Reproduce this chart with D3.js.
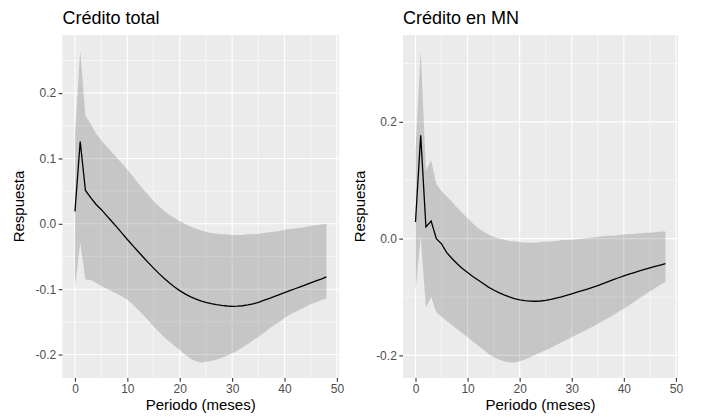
<!DOCTYPE html>
<html>
<head>
<meta charset="utf-8">
<script src="https://cdn.jsdelivr.net/npm/d3@7"></script>
<style>
  body { margin: 0; background: #fff; }
  text { font-family: "Liberation Sans", Arial, Helvetica, sans-serif; }
</style>
</head>
<body>
<script>
// periods (months)
const periods = [0,1,2,3,4,5,6,7,8,9,10,11,12,13,14,15,16,17,18,19,20,21,22,23,24,
  25,26,27,28,29,30,31,32,33,34,35,36,37,38,39,40,41,42,43,44,45,46,47,48];

// Crédito total
const totalEst = [0.019,0.126,0.051,0.040,0.030,0.022,0.013,0.004,-0.005,-0.0145,-0.024,
  -0.033,-0.0419,-0.0507,-0.0594,-0.0678,-0.0758,-0.0833,-0.0903,-0.0966,-0.1022,-0.1071,
  -0.1113,-0.1148,-0.1177,-0.1201,-0.1221,-0.1237,-0.1249,-0.1257,-0.1262,-0.1260,-0.1253,
  -0.1240,-0.1224,-0.1200,-0.1172,-0.1143,-0.1113,-0.1083,-0.1053,-0.1023,-0.0993,-0.0963,
  -0.0933,-0.0903,-0.0874,-0.0845,-0.0812];
const totalUp = [0.136,0.265,0.165,0.153,0.138,0.128,0.119,0.110,0.101,0.092,0.083,
  0.073,0.063,0.053,0.044,0.035,0.027,0.020,0.014,0.009,0.004,0.000,-0.004,-0.007,
  -0.010,-0.012,-0.014,-0.015,-0.016,-0.0165,-0.017,-0.017,-0.017,-0.016,-0.016,-0.015,
  -0.014,-0.013,-0.012,-0.011,-0.009,-0.008,-0.007,-0.006,-0.005,-0.003,-0.002,-0.001,0.000];
const totalLow = [-0.098,-0.029,-0.085,-0.086,-0.090,-0.095,-0.099,-0.103,-0.107,-0.111,
  -0.116,-0.123,-0.131,-0.139,-0.148,-0.157,-0.165,-0.173,-0.180,-0.187,-0.193,-0.200,
  -0.206,-0.210,-0.212,-0.211,-0.210,-0.208,-0.205,-0.202,-0.198,-0.194,-0.189,-0.184,
  -0.178,-0.173,-0.167,-0.161,-0.155,-0.150,-0.144,-0.139,-0.135,-0.131,-0.127,-0.123,
  -0.120,-0.117,-0.114];

// Crédito en MN
const mnEst = [0.0285,0.177,0.020,0.030,0.000,-0.009,-0.024,-0.034,-0.043,-0.051,-0.058,
  -0.065,-0.071,-0.077,-0.083,-0.088,-0.0925,-0.0965,-0.0998,-0.1027,-0.1050,-0.1063,
  -0.1071,-0.1073,-0.1068,-0.1056,-0.1040,-0.1020,-0.0998,-0.0972,-0.0945,-0.0917,-0.0890,
  -0.0863,-0.0834,-0.0804,-0.0771,-0.0737,-0.0703,-0.0670,-0.0640,-0.0610,-0.0581,-0.0553,
  -0.0527,-0.0501,-0.0477,-0.0453,-0.0430];
const mnUp = [0.150,0.322,0.117,0.134,0.093,0.081,0.072,0.063,0.053,0.044,0.035,0.026,
  0.018,0.012,0.007,0.003,0.000,-0.002,-0.004,-0.005,-0.006,-0.0065,-0.007,-0.007,-0.006,
  -0.005,-0.005,-0.004,-0.003,-0.002,-0.002,-0.001,0.000,0.001,0.002,0.003,0.004,0.005,
  0.005,0.006,0.007,0.008,0.008,0.009,0.010,0.010,0.011,0.012,0.012];
const mnLow = [-0.091,0.003,-0.118,-0.100,-0.126,-0.134,-0.141,-0.148,-0.155,-0.162,-0.169,
  -0.176,-0.183,-0.190,-0.197,-0.203,-0.207,-0.210,-0.212,-0.212,-0.210,-0.207,-0.203,
  -0.199,-0.195,-0.191,-0.187,-0.182,-0.178,-0.173,-0.169,-0.164,-0.160,-0.155,-0.151,
  -0.146,-0.141,-0.136,-0.131,-0.125,-0.120,-0.114,-0.108,-0.102,-0.096,-0.090,-0.085,
  -0.079,-0.074];

// axis ticks
const xMajor = [0, 10, 20, 30, 40, 50];
const xMinor = [5, 15, 25, 35, 45];
const yMajorTotal = [-0.2, -0.1, 0.0, 0.1, 0.2];
const yMinorTotal = [-0.15, -0.05, 0.05, 0.15, 0.25];
const yMajorMN = [-0.2, 0.0, 0.2];
const yMinorMN = [-0.1, 0.1, 0.3];

const titles = ["Crédito total", "Crédito en MN"];
const xTitle = "Periodo (meses)";
const yTitle = "Respuesta";

const svg = d3.select("body").append("svg")
  .attr("width", 701)
  .attr("height", 417);

const panelTop = 35, panelBottom = 378;
const fmt = v => d3.format(".1f")(v).replace("−", "-");

function drawPanel(cfg) {
  const x = d3.scaleLinear()
    .domain([-2.4, 50.4])
    .range([cfg.x0, cfg.x1]);
  const lo = d3.min(cfg.low), hi = d3.max(cfg.up);
  const pad = (hi - lo) * 0.05;
  const y = d3.scaleLinear()
    .domain([lo - pad, hi + pad])
    .range([panelBottom, panelTop]);

  const g = svg.append("g");

  // panel background
  g.append("rect")
    .attr("x", cfg.x0).attr("y", panelTop)
    .attr("width", cfg.x1 - cfg.x0).attr("height", panelBottom - panelTop)
    .attr("fill", "#EBEBEB");

  // minor grid
  g.selectAll(".vminor").data(xMinor).enter().append("line")
    .attr("x1", d => x(d)).attr("x2", d => x(d))
    .attr("y1", panelTop).attr("y2", panelBottom)
    .attr("stroke", "#fff").attr("stroke-width", 0.55);
  g.selectAll(".hminor").data(cfg.yMinor.filter(d => y(d) >= panelTop && y(d) <= panelBottom)).enter().append("line")
    .attr("x1", cfg.x0).attr("x2", cfg.x1)
    .attr("y1", d => y(d)).attr("y2", d => y(d))
    .attr("stroke", "#fff").attr("stroke-width", 0.55);

  // major grid
  g.selectAll(".vmajor").data(xMajor).enter().append("line")
    .attr("x1", d => x(d)).attr("x2", d => x(d))
    .attr("y1", panelTop).attr("y2", panelBottom)
    .attr("stroke", "#fff").attr("stroke-width", 1.1);
  g.selectAll(".hmajor").data(cfg.yMajor).enter().append("line")
    .attr("x1", cfg.x0).attr("x2", cfg.x1)
    .attr("y1", d => y(d)).attr("y2", d => y(d))
    .attr("stroke", "#fff").attr("stroke-width", 1.1);

  const rows = periods.map((p, i) => ({ p: p, est: cfg.est[i], low: cfg.low[i], up: cfg.up[i] }));

  // confidence band
  g.append("path")
    .datum(rows)
    .attr("d", d3.area().x(d => x(d.p)).y0(d => y(d.low)).y1(d => y(d.up)))
    .attr("fill", "#333333")
    .attr("fill-opacity", 0.2);

  // point estimate
  g.append("path")
    .datum(rows)
    .attr("d", d3.line().x(d => x(d.p)).y(d => y(d.est)))
    .attr("fill", "none")
    .attr("stroke", "#000")
    .attr("stroke-width", 1.3);

  // axes
  const ax = g.append("g")
    .attr("transform", `translate(0,${panelBottom})`)
    .call(d3.axisBottom(x).tickValues(xMajor).tickSize(3.7).tickPadding(3));
  const ay = g.append("g")
    .attr("transform", `translate(${cfg.x0},0)`)
    .call(d3.axisLeft(y).tickValues(cfg.yMajor).tickFormat(fmt).tickSize(3.7).tickPadding(2.5));
  [ax, ay].forEach(a => {
    a.select(".domain").remove();
    a.selectAll(".tick line").attr("stroke", "#333").attr("stroke-width", 1.1);
    a.selectAll(".tick text")
      .attr("fill", "#4D4D4D")
      .style("font-size", "12px")
      .style("font-family", "'Liberation Sans', Arial, sans-serif");
  });

  // titles
  g.append("text")
    .attr("x", cfg.x0).attr("y", 24)
    .style("font-size", "18px")
    .attr("fill", "#000")
    .text(cfg.title);
  g.append("text")
    .attr("x", (cfg.x0 + cfg.x1) / 2).attr("y", 410)
    .attr("text-anchor", "middle")
    .style("font-size", "15px")
    .attr("fill", "#000")
    .text(xTitle);
  g.append("text")
    .attr("transform", `translate(${cfg.x0 - 38},${(panelTop + panelBottom) / 2}) rotate(-90)`)
    .attr("text-anchor", "middle")
    .style("font-size", "15px")
    .attr("fill", "#000")
    .text(yTitle);
}

drawPanel({ x0: 62.4, x1: 339, est: totalEst, low: totalLow, up: totalUp,
  yMajor: yMajorTotal, yMinor: yMinorTotal, title: titles[0] });
drawPanel({ x0: 403, x1: 678, est: mnEst, low: mnLow, up: mnUp,
  yMajor: yMajorMN, yMinor: yMinorMN, title: titles[1] });
</script>
</body>
</html>
